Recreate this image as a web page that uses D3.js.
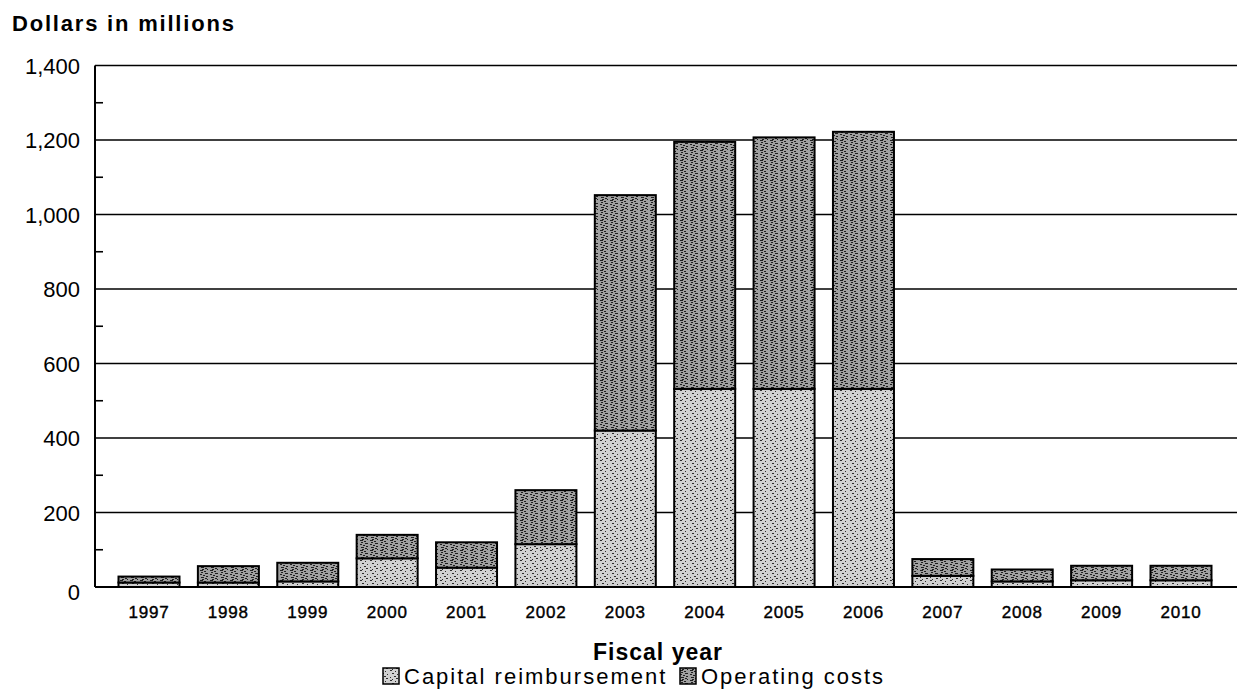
<!DOCTYPE html>
<html>
<head>
<meta charset="utf-8">
<script src="https://cdn.jsdelivr.net/npm/d3@7"></script>
<style>
  body { margin: 0; background: #fff; }
  svg { display: block; font-family: "Liberation Sans", Arial, sans-serif; }
</style>
</head>
<body>
<svg id="chart" width="1238" height="689"></svg>
<script>
// data (dollars in millions)
var years = ["1997","1998","1999","2000","2001","2002","2003","2004","2005","2006","2007","2008","2009","2010"];
var capital = [12, 12, 15, 77, 52, 115, 420, 532, 532, 532, 30, 15, 18, 18];
var operating = [16, 44, 50, 63, 68, 145, 632, 663, 675, 690, 45, 32, 39, 39];
var yTicks = [0, 200, 400, 600, 800, 1000, 1200, 1400];
var yMinor = [100, 300, 500, 700, 900, 1100, 1300];

var svg = d3.select("#chart");
var plotLeft = 95, plotRight = 1237, plotTop = 65.5, plotBottom = 587;
var barWidth = 61;

var x = d3.scalePoint()
    .domain(years)
    .range([149, 1181]);

var y = d3.scaleLinear()
    .domain([0, 1400])
    .range([plotBottom, plotTop]);

// stipple patterns, a rough stand-in for the scanned screens
var defs = svg.append("defs");
function stipple(id, bg, ink, dots, size) {
    var p = defs.append("pattern")
        .attr("id", id)
        .attr("patternUnits", "userSpaceOnUse")
        .attr("width", size)
        .attr("height", size);
    p.append("rect").attr("width", size).attr("height", size).attr("fill", bg);
    p.selectAll("rect.d")
        .data(dots)
        .enter()
        .append("rect")
        .attr("class", "d")
        .attr("x", d => d[0])
        .attr("y", d => d[1])
        .attr("width", d => d[2])
        .attr("height", 1)
        .attr("fill", ink);
}
stipple("capPat", "#d0d0d0", "#2a2a2a",
    [[0,0,2],[5,1,1],[2,3,2],[7,4,1],[4,6,2],[0,7,1],[6,8,2],[2,9,1]], 10);
stipple("opPat", "#a0a0a0", "#1e1e1e",
    [[0,0,3],[4,1,2],[1,2,2],[5,3,3],[0,4,2],[3,5,2],[6,6,2],[1,7,3],[5,8,2],[2,9,2],[7,9,1]], 10);

// grid lines at the major ticks
svg.append("g")
    .selectAll("line")
    .data(yTicks)
    .enter()
    .append("line")
    .attr("x1", plotLeft)
    .attr("x2", plotRight)
    .attr("y1", d => y(d))
    .attr("y2", d => y(d))
    .attr("stroke", "#000")
    .attr("stroke-width", 1.6);

// minor ticks on the inside of the axis
svg.append("g")
    .selectAll("line")
    .data(yMinor)
    .enter()
    .append("line")
    .attr("x1", plotLeft)
    .attr("x2", plotLeft + 8)
    .attr("y1", d => y(d))
    .attr("y2", d => y(d))
    .attr("stroke", "#000")
    .attr("stroke-width", 1.6);

// left axis line
svg.append("line")
    .attr("x1", plotLeft).attr("x2", plotLeft)
    .attr("y1", plotTop).attr("y2", plotBottom)
    .attr("stroke", "#000")
    .attr("stroke-width", 2);

// y tick labels
svg.append("g")
    .selectAll("text")
    .data(yTicks)
    .enter()
    .append("text")
    .attr("x", 80)
    .attr("y", d => y(d) + (d === 0 ? 13 : 8))
    .attr("text-anchor", "end")
    .style("font-size", "22px")
    .text(d => d3.format(",")(d));

// bars: capital at the bottom, operating on top
var bars = svg.append("g");
bars.selectAll("rect.cap")
    .data(years)
    .enter()
    .append("rect")
    .attr("class", "cap")
    .attr("x", d => x(d) - barWidth / 2)
    .attr("y", (d, i) => y(capital[i]))
    .attr("width", barWidth)
    .attr("height", (d, i) => y(0) - y(capital[i]))
    .attr("fill", "url(#capPat)")
    .attr("stroke", "#000")
    .attr("stroke-width", 2);

bars.selectAll("rect.op")
    .data(years)
    .enter()
    .append("rect")
    .attr("class", "op")
    .attr("x", d => x(d) - barWidth / 2)
    .attr("y", (d, i) => y(capital[i] + operating[i]))
    .attr("width", barWidth)
    .attr("height", (d, i) => y(capital[i]) - y(capital[i] + operating[i]))
    .attr("fill", "url(#opPat)")
    .attr("stroke", "#000")
    .attr("stroke-width", 2);

// baseline
svg.append("line")
    .attr("x1", plotLeft).attr("x2", plotRight)
    .attr("y1", plotBottom).attr("y2", plotBottom)
    .attr("stroke", "#000")
    .attr("stroke-width", 2.2);

// x labels
svg.append("g")
    .selectAll("text")
    .data(years)
    .enter()
    .append("text")
    .attr("x", d => x(d))
    .attr("y", 618)
    .attr("text-anchor", "middle")
    .style("font-size", "17px")
    .style("letter-spacing", "0.8px")
    .attr("stroke", "#000")
    .attr("stroke-width", 0.4)
    .text(d => d);

svg.append("text")
    .attr("x", 12)
    .attr("y", 31)
    .style("font-size", "22px")
    .style("font-weight", "bold")
    .style("letter-spacing", "1.8px")
    .text("Dollars in millions");

svg.append("text")
    .attr("x", 658)
    .attr("y", 660)
    .attr("text-anchor", "middle")
    .style("font-size", "23px")
    .style("font-weight", "bold")
    .style("letter-spacing", "1px")
    .text("Fiscal year");

// legend
var legendItems = [
    { label: "Capital reimbursement", fill: "url(#capPat)", x: 383 },
    { label: "Operating costs", fill: "url(#opPat)", x: 680 }
];
var lg = svg.append("g");
lg.selectAll("rect")
    .data(legendItems)
    .enter()
    .append("rect")
    .attr("x", d => d.x)
    .attr("y", 668)
    .attr("width", 16)
    .attr("height", 16)
    .attr("fill", d => d.fill)
    .attr("stroke", "#000")
    .attr("stroke-width", 1.5);
lg.selectAll("text")
    .data(legendItems)
    .enter()
    .append("text")
    .attr("x", d => d.x + 21)
    .attr("y", 684)
    .style("font-size", "22px")
    .style("letter-spacing", "2px")
    .text(d => d.label);
</script>
</body>
</html>
